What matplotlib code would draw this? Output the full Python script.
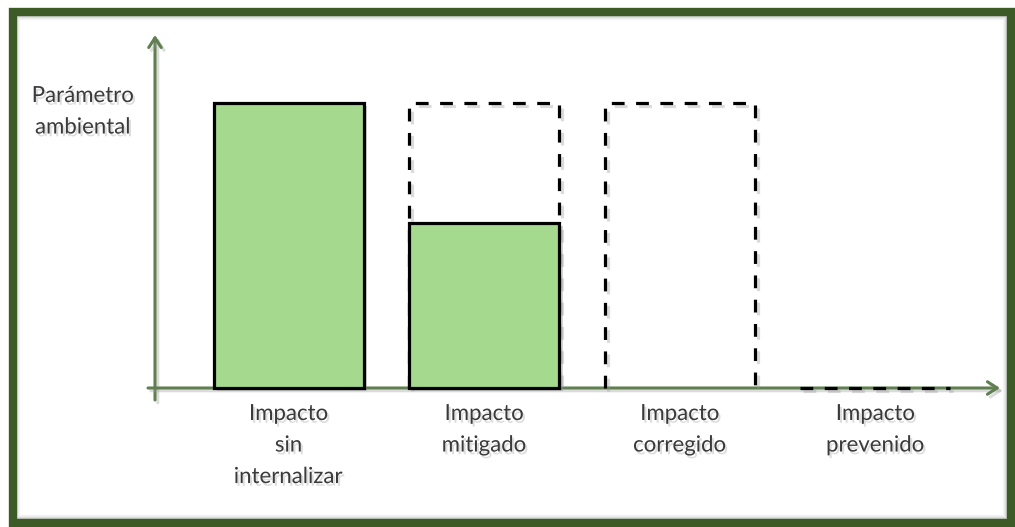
import matplotlib
matplotlib.use("Agg")
import matplotlib.pyplot as plt
import matplotlib.patheffects as pe
from matplotlib.patches import Rectangle

# ---- data ----
categorias = ["Impacto\nsin\ninternalizar", "Impacto\nmitigado", "Impacto\ncorregido", "Impacto\nprevenido"]
impacto_real = [1.0, 0.58, 0.0, 0.0]          # solid green bars
impacto_potencial = [None, 1.0, 1.0, 0.0]     # dashed outlines
ylabel = "Parámetro\nambiental"

# ---- style ----
W, H = 1015, 527
fig = plt.figure(figsize=(W / 100, H / 100), dpi=100)
fig.patch.set_facecolor("white")
ax = fig.add_axes([0, 0, 1, 1])
ax.set_axis_off()

# pixel -> data mapping (category spacing ~195.6 px, first center at 288.6 px; 285 px per unit)
x0, dx = 288.6, 195.6
base_px, unit_px = 388, 285
ax.set_xlim((0 - x0) / dx, (W - x0) / dx)
ax.set_ylim((base_px - H) / unit_px, base_px / unit_px)

def px_x(p):
    return (p - x0) / dx

def px_y(p):
    return (base_px - p) / unit_px

FONT = "Lato"
txt_col = "#3a3a3a"
green_axis = "#5f7f50"
fill_col = "#a4d98e"
shadow = [pe.withSimplePatchShadow(offset=(2.5, -2.5), shadow_rgbFace="#888888", alpha=0.35)]
line_shadow = [pe.SimpleLineShadow(offset=(2, -2), shadow_color="#999999", alpha=0.35), pe.Normal()]
txt_shadow = [pe.withSimplePatchShadow(offset=(1.5, -2), shadow_rgbFace="#aaaaaa", alpha=0.4)]

width = 150 / dx
idx = list(range(len(categorias)))
dash = (0, (4, 3.6))

# dashed outlines (top and sides, or a flat line when height is zero)
for i, v in zip(idx, impacto_potencial):
    if v is None:
        continue
    l, r = i - width / 2, i + width / 2
    if v > 0:
        xs, ys = [l, l, r, r], [0, v, v, 0]
    else:
        xs, ys = [l, r], [v, v]
    ax.plot(xs, ys, color="black", lw=2.3, linestyle=dash, zorder=3,
            solid_joinstyle="miter", path_effects=line_shadow)

# solid bars
for i, v in zip(idx, impacto_real):
    if v > 0:
        ax.bar(i, v, width=width, bottom=0, facecolor=fill_col, edgecolor="black",
               linewidth=2.3, zorder=4, path_effects=shadow)

# axes arrows
yax = px_x(155)
arrow = dict(arrowstyle="->,head_length=0.7,head_width=0.45", color=green_axis, lw=2.2,
             shrinkA=0, shrinkB=0, path_effects=line_shadow)
ax.annotate("", xy=(yax, px_y(35)), xytext=(yax, px_y(400)), arrowprops=arrow, zorder=2)
ax.annotate("", xy=(px_x(1000), 0), xytext=(px_x(148), 0), arrowprops=arrow, zorder=2)

# category labels
for i, lab in zip(idx, categorias):
    ax.text(i, px_y(404), lab, ha="center", va="top", fontsize=16, family=FONT,
            color=txt_col, linespacing=1.72, path_effects=txt_shadow, zorder=5)

# y label
ax.text(px_x(83), px_y(86), ylabel, ha="center", va="top", fontsize=16, family=FONT,
        color=txt_col, linespacing=1.72, path_effects=txt_shadow, zorder=5)

# frame with inner shadow
for k, a in enumerate([0.22, 0.15, 0.09, 0.05, 0.02]):
    fig.add_artist(Rectangle(((16 + k) / W, (H - 519 + k) / H), (1007 - 16 - 2 * k) / W, (519 - 16 - 2 * k) / H,
                             transform=fig.transFigure, fill=False, edgecolor="#555555",
                             linewidth=1.2, alpha=a, zorder=9))
fig.add_artist(Rectangle((12.5 / W, (H - 522.5) / H), (1010.5 - 12.5) / W, (522.5 - 12) / H,
                         transform=fig.transFigure, fill=False, edgecolor="#3d5b26",
                         linewidth=6, zorder=10))

fig.savefig("out.png", dpi=100, facecolor="white")
